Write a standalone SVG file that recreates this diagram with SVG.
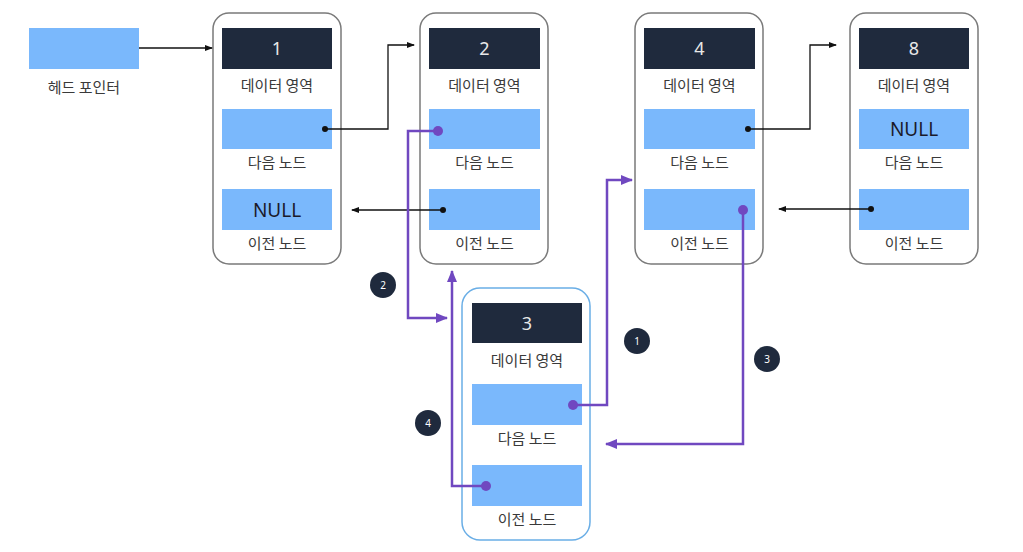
<svg xmlns="http://www.w3.org/2000/svg" width="1023" height="552" viewBox="0 0 1023 552">
<defs>
<style>
.box{fill:#fff;stroke:#7a7a7a;stroke-width:1.5}
.box3{fill:#fff;stroke:#6aaee6;stroke-width:1.5}
.dark{fill:#1f2a3d}
.blue{fill:#7ab8fc}
.num{font-family:"Noto Sans","Noto Sans CJK KR",sans-serif;font-size:18px;fill:#e8e8e8;text-anchor:middle}
.lbl{font-family:"Noto Sans CJK KR","Noto Sans",sans-serif;font-size:15px;fill:#3a3a3a;text-anchor:middle}
.null{font-family:"Noto Sans","Noto Sans CJK KR",sans-serif;font-size:19px;fill:#1a1a2a;text-anchor:middle}
.blk{fill:none;stroke:#111;stroke-width:1.3}
.pur{fill:none;stroke:#7048c0;stroke-width:2.5}
.badge{fill:#1f2a3d}
.btxt{font-family:"Noto Sans",sans-serif;font-size:10px;fill:#fff;text-anchor:middle}
</style>
<marker id="ab" markerWidth="8" markerHeight="8" refX="7" refY="4" orient="auto" markerUnits="userSpaceOnUse"><path d="M0,1 L8,4 L0,7 z" fill="#111"/></marker>
<marker id="ap" markerWidth="12" markerHeight="12" refX="11" refY="6" orient="auto" markerUnits="userSpaceOnUse"><path d="M0,1 L12,6 L0,11 z" fill="#7048c0"/></marker>
</defs>
<rect width="1023" height="552" fill="#fff"/>

<g id="head">
<rect x="29" y="28" width="110" height="41" class="blue"/>
<text x="84" y="93" class="lbl">헤드 포인터</text>
</g>

<g id="node1">
<rect x="213" y="13" width="128" height="251" rx="16" class="box"/>
<rect x="222" y="28" width="110" height="41" class="dark"/>
<text x="277" y="55" class="num">1</text>
<text x="277" y="91" class="lbl">데이터 영역</text>
<rect x="222" y="109" width="110" height="40" class="blue"/>
<text x="277" y="168" class="lbl">다음 노드</text>
<rect x="222" y="189" width="110" height="41" class="blue"/>
<text x="277" y="217" class="null">NULL</text>
<text x="277" y="249" class="lbl">이전 노드</text>
</g>

<g id="node2">
<rect x="420" y="13" width="128" height="251" rx="16" class="box"/>
<rect x="429" y="28" width="111" height="41" class="dark"/>
<text x="484.5" y="55" class="num">2</text>
<text x="484.5" y="91" class="lbl">데이터 영역</text>
<rect x="429" y="109" width="111" height="40" class="blue"/>
<text x="484.5" y="168" class="lbl">다음 노드</text>
<rect x="429" y="189" width="111" height="41" class="blue"/>
<text x="484.5" y="249" class="lbl">이전 노드</text>
</g>

<g id="node4">
<rect x="635" y="13" width="128" height="251" rx="16" class="box"/>
<rect x="644" y="28" width="111" height="41" class="dark"/>
<text x="699.5" y="55" class="num">4</text>
<text x="699.5" y="91" class="lbl">데이터 영역</text>
<rect x="644" y="109" width="111" height="40" class="blue"/>
<text x="699.5" y="168" class="lbl">다음 노드</text>
<rect x="644" y="189" width="111" height="41" class="blue"/>
<text x="699.5" y="249" class="lbl">이전 노드</text>
</g>

<g id="node8">
<rect x="850" y="13" width="128" height="251" rx="16" class="box"/>
<rect x="859" y="28" width="110" height="41" class="dark"/>
<text x="914" y="55" class="num">8</text>
<text x="914" y="91" class="lbl">데이터 영역</text>
<rect x="859" y="109" width="110" height="40" class="blue"/>
<text x="914" y="136" class="null">NULL</text>
<text x="914" y="168" class="lbl">다음 노드</text>
<rect x="859" y="189" width="110" height="41" class="blue"/>
<text x="914" y="249" class="lbl">이전 노드</text>
</g>

<g id="node3">
<rect x="462" y="288" width="128" height="252" rx="18" class="box3"/>
<rect x="472" y="303" width="110" height="40" class="dark"/>
<text x="527" y="330" class="num">3</text>
<text x="527" y="366" class="lbl">데이터 영역</text>
<rect x="472" y="384" width="110" height="41" class="blue"/>
<text x="527" y="444" class="lbl">다음 노드</text>
<rect x="472" y="465" width="110" height="41" class="blue"/>
<text x="527" y="525" class="lbl">이전 노드</text>
</g>

<g id="connectors">
<path d="M139,48 H212" class="blk" marker-end="url(#ab)"/>
<circle cx="325" cy="129" r="3" fill="#111"/>
<path d="M325,129 H388 V45 H414" class="blk" marker-end="url(#ab)"/>
<circle cx="443" cy="210" r="3" fill="#111"/>
<path d="M443,210 H352" class="blk" marker-end="url(#ab)"/>
<circle cx="748" cy="129" r="3" fill="#111"/>
<path d="M748,129 H810 V45 H836" class="blk" marker-end="url(#ab)"/>
<circle cx="871" cy="209" r="3" fill="#111"/>
<path d="M871,209 H779" class="blk" marker-end="url(#ab)"/>

<circle cx="438" cy="131" r="5" fill="#7048c0"/>
<path d="M438,131 H408 V318 H447" class="pur" marker-end="url(#ap)"/>
<circle cx="486" cy="486" r="5" fill="#7048c0"/>
<path d="M486,486 H452 V271" class="pur" marker-end="url(#ap)"/>
<circle cx="573" cy="405" r="5" fill="#7048c0"/>
<path d="M573,405 H607 V180 H632" class="pur" marker-end="url(#ap)"/>
<circle cx="743" cy="210" r="5" fill="#7048c0"/>
<path d="M743,210 V444 H606" class="pur" marker-end="url(#ap)"/>
</g>

<g id="badges">
<circle cx="383" cy="285" r="13" class="badge"/>
<text x="383" y="289" class="btxt">2</text>
<circle cx="637" cy="341" r="13" class="badge"/>
<text x="637" y="345" class="btxt">1</text>
<circle cx="767" cy="359" r="13" class="badge"/>
<text x="767" y="363" class="btxt">3</text>
<circle cx="428" cy="423" r="13" class="badge"/>
<text x="428" y="427" class="btxt">4</text>
</g>
</svg>
